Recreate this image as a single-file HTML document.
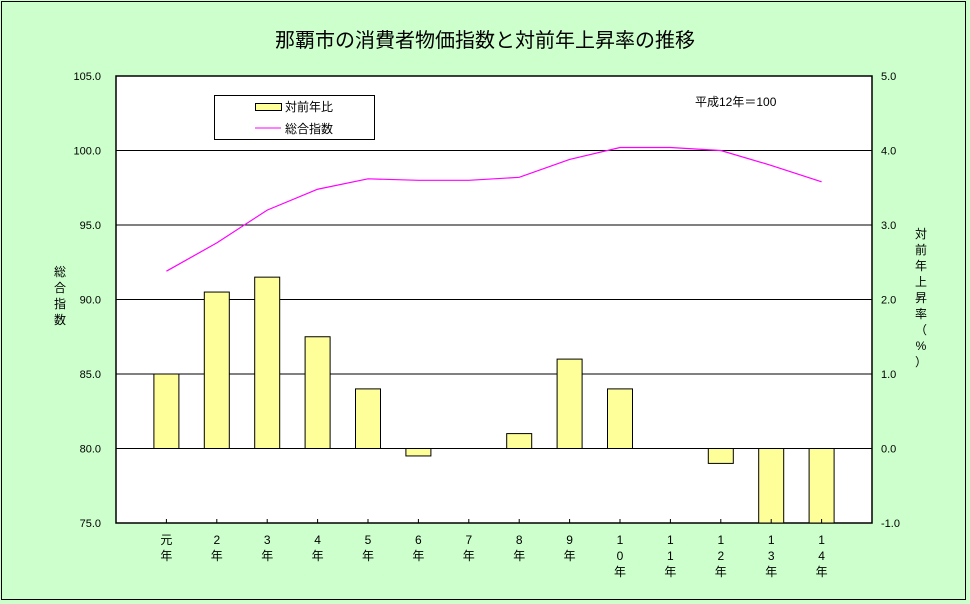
<!DOCTYPE html>
<html><head><meta charset="utf-8"><style>
body{margin:0;width:970px;height:604px;background:#ccffcc;overflow:hidden}
svg{display:block;font-family:"Liberation Sans","Noto Sans CJK JP",sans-serif}
</style></head><body>
<svg width="970" height="604">
<rect x="1.5" y="1.5" width="964" height="598" fill="#ccffcc" stroke="#000"/>
<text x="485" y="47" text-anchor="middle" font-size="20">那覇市の消費者物価指数と対前年上昇率の推移</text>
<rect x="116" y="76" width="756" height="447" fill="#fff" stroke="#000" stroke-width="1.5"/>
<g id="grid"></g><g id="bars"></g><g id="line"></g><g id="axes"></g>
<g>
<rect x="214.5" y="95.5" width="160" height="44" fill="#fff" stroke="#000"/>
<rect x="255.5" y="103.5" width="26" height="7" fill="#ffff99" stroke="#000"/>
<text x="285" y="111" font-size="12">対前年比</text>
<line x1="255" y1="128" x2="281" y2="128" stroke="#ff00ff"/>
<text x="285" y="133" font-size="12">総合指数</text>
</g>
<text x="695" y="106" font-size="12">平成12年＝100</text>
<text x="60" y="276" font-size="12" text-anchor="middle"><tspan x="60">総</tspan><tspan x="60" dy="16">合</tspan><tspan x="60" dy="16">指</tspan><tspan x="60" dy="16">数</tspan></text>
<text x="921" y="238" font-size="12" text-anchor="middle"><tspan x="921">対</tspan><tspan x="921" dy="16">前</tspan><tspan x="921" dy="16">年</tspan><tspan x="921" dy="16">上</tspan><tspan x="921" dy="16">昇</tspan><tspan x="921" dy="16">率</tspan><tspan x="921" dy="16">（</tspan><tspan x="921" dy="16">%</tspan><tspan x="921" dy="16">）</tspan></text>
</svg>
<script>
const categories=[["元","年"],["2","年"],["3","年"],["4","年"],["5","年"],["6","年"],["7","年"],["8","年"],["9","年"],["1","0","年"],["1","1","年"],["1","2","年"],["1","3","年"],["1","4","年"]];
const rateValues=[1.0,2.1,2.3,1.5,0.8,-0.1,0.0,0.2,1.2,0.8,0.0,-0.2,-1.0,-1.0];
const indexValues=[91.9,93.8,96.0,97.4,98.1,98.0,98.0,98.2,99.4,100.2,100.2,100.0,99.0,97.9];
const leftTicks=["75.0","80.0","85.0","90.0","95.0","100.0","105.0"];
const rightTicks=["-1.0","0.0","1.0","2.0","3.0","4.0","5.0"];
const NS="http://www.w3.org/2000/svg";
const L=116,R=872,T=76,B=523;
const xC=i=>L+(R-L)/(categories.length+1)*(i+1);
const yL=v=>B-(v-75)/30*(B-T);
const yR=v=>B-(v+1)/6*(B-T);
function mk(tag,attrs,parent,text){const e=document.createElementNS(NS,tag);for(const k in attrs)e.setAttribute(k,attrs[k]);if(text!==undefined)e.textContent=text;document.getElementById(parent).appendChild(e);return e;}
leftTicks.forEach((t,i)=>{const v=parseFloat(t);const y=yL(v);
 if(i>0&&i<leftTicks.length-1){const g=mk('line',{x1:L,x2:R,y1:y,y2:y,stroke:'#000','stroke-width':1},'grid');
 
 }
 const tx=mk('text',{x:101,y:y+4,'text-anchor':'end','font-size':11},'axes',t);
 
 });
rightTicks.forEach(t=>{const y=yR(parseFloat(t));
 const tx=mk('text',{x:881,y:y+4,'font-size':11},'axes',t);
 
 });
const y0=yR(0);
rateValues.forEach((v,i)=>{const x=xC(i)-12.5;const y=Math.min(yR(v),y0);const h=Math.abs(yR(v)-y0);
 const b=mk('rect',{x:x,y:y,width:25,height:h,fill:'#ffff99',stroke:'#000','stroke-width':1},'bars');
 
 });
const pts=indexValues.map((v,i)=>xC(i)+','+yL(v)).join(' ');
const pl=mk('polyline',{points:pts,fill:'none',stroke:'#ff00ff','stroke-width':1.2},'line');


categories.forEach((c,i)=>{const x=xC(i);
 mk('line',{x1:x,x2:x,y1:B,y2:B-4,stroke:'#000'},'axes');
 c.forEach((ch,j)=>{const t=mk('text',{x:x,y:544+j*16,'text-anchor':'middle','font-size':12},'axes',ch);
 
 });});
</script>
</body></html>
